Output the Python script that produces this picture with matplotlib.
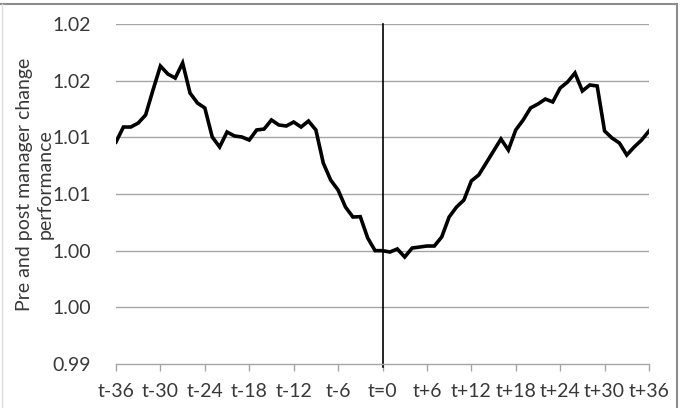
import matplotlib
matplotlib.use("Agg")
import matplotlib.pyplot as plt
from matplotlib.lines import Line2D

# ============================================================
# DATA
# ============================================================

months = list(range(-36, 37))

performance = [
    1.00959, 1.01091, 1.01091, 1.01126, 1.01197, 1.01418, 1.01629, 1.01559,
    1.01523, 1.01656, 1.01391, 1.01303, 1.01259, 1.01003, 1.00915, 1.01047,
    1.01012, 1.01003, 1.00976, 1.01065, 1.01073, 1.01153, 1.01109, 1.01100,
    1.01135, 1.01091, 1.01144, 1.01065, 1.00773, 1.00623, 1.00535, 1.00385,
    1.00297, 1.00300, 1.00112, 1.00000, 1.00000, 0.99988, 1.00015, 0.99944,
    1.00023, 1.00032, 1.00041, 1.00041, 1.00121, 1.00297, 1.00385, 1.00447,
    1.00615, 1.00668, 1.00773, 1.00879, 1.00985, 1.00888, 1.01065, 1.01153,
    1.01259, 1.01294, 1.01338, 1.01312, 1.01435, 1.01488, 1.01568, 1.01409,
    1.01462, 1.01453, 1.01056, 1.00994, 1.00950, 1.00844, 1.00915, 1.00976,
    1.01056,
]

x_ticks = list(range(-36, 37, 6))
x_labels = ["t-36", "t-30", "t-24", "t-18", "t-12", "t-6", "t=0",
            "t+6", "t+12", "t+18", "t+24", "t+30", "t+36"]

y_ticks = [0.99, 0.995, 1.00, 1.005, 1.01, 1.015, 1.02]
y_labels = ["0.99", "1.00", "1.00", "1.01", "1.01", "1.02", "1.02"]

# ============================================================
# PLOT
# ============================================================

plt.rcParams["font.family"] = ["Lato", "DejaVu Sans"]

fs = 14
text_color = "#383838"
grid_color = "#a6a6a6"

fig = plt.figure(figsize=(6.86, 4.08), dpi=100)
ax = fig.add_axes([116 / 686, 1 - 364 / 408, 533 / 686, 340 / 408])

for yt in y_ticks[1:]:
    ax.axhline(yt, color=grid_color, linewidth=1.0, zorder=1)

ax.plot(months, performance, color="black", linewidth=2.6,
        solid_joinstyle="miter", zorder=3)

# vertical marker at the manager change
ax.axvline(0, ymin=-0.01, ymax=1.0, color="black", linewidth=1.2,
           zorder=2, clip_on=False)

ax.set_xlim(-36, 36)
ax.set_ylim(0.99, 1.02)

ax.set_xticks(x_ticks)
ax.set_xticklabels(x_labels, fontsize=fs, color=text_color)
ax.set_yticks(y_ticks)
ax.set_yticklabels(y_labels, fontsize=fs, color=text_color)

ax.tick_params(axis="x", direction="out", length=5, width=1,
               color=grid_color, pad=9)
ax.tick_params(axis="y", length=0, pad=18)

for side in ["top", "right", "left"]:
    ax.spines[side].set_visible(False)
ax.spines["bottom"].set_color(grid_color)
ax.spines["bottom"].set_linewidth(1.0)

fig.text(25 / 686, 1 - 184 / 408, "Pre and post manager change",
         rotation=90, ha="center", va="center", fontsize=fs, color=text_color)
fig.text(45 / 686, 1 - 184 / 408, "performance",
         rotation=90, ha="center", va="center", fontsize=fs, color=text_color)

# chart frame
fig.add_artist(Line2D([0, 677 / 686], [1 - 4 / 408, 1 - 4 / 408],
                      transform=fig.transFigure, color="#8c8c8c", linewidth=1.5))
fig.add_artist(Line2D([677 / 686, 677 / 686], [0, 1 - 4 / 408],
                      transform=fig.transFigure, color="#8c8c8c", linewidth=1.5))
fig.add_artist(Line2D([2 / 686, 2 / 686], [0, 1 - 4 / 408],
                      transform=fig.transFigure, color="#dddddd", linewidth=1.0))

fig.savefig("out.png", dpi=100)
